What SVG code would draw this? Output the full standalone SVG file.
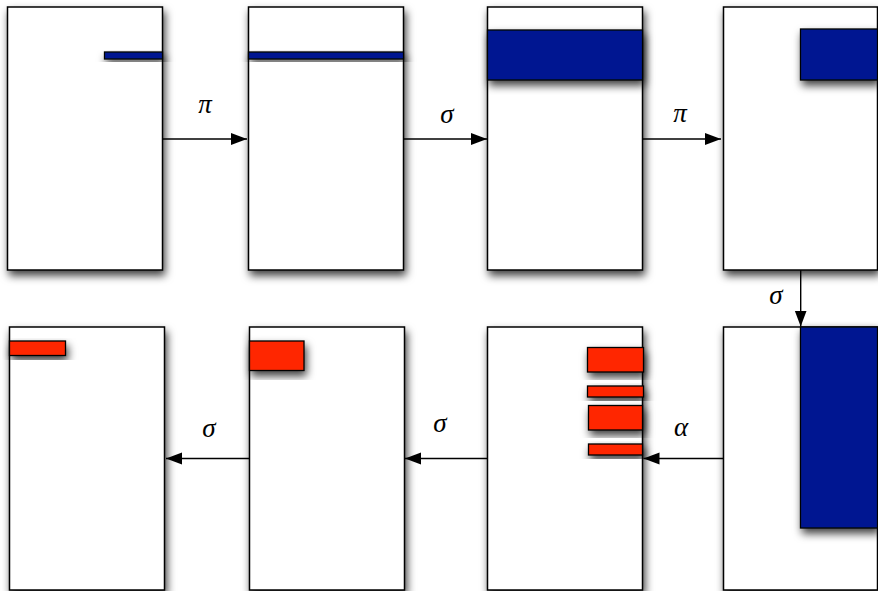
<svg xmlns="http://www.w3.org/2000/svg" width="878" height="591" viewBox="0 0 878 591">
<defs>
<filter id="sh" x="-20%" y="-20%" width="150%" height="150%">
<feDropShadow dx="2" dy="5" stdDeviation="4" flood-color="#000" flood-opacity="0.75"/>
</filter>
<marker id="ah" markerUnits="userSpaceOnUse" markerWidth="17" markerHeight="13" refX="16" refY="6" orient="auto">
<path d="M0,0 L16,6 L0,12 z" fill="#000"/>
</marker>
</defs>
<style>
.box{fill:#fff;stroke:#000;stroke-width:1.5;filter:url(#sh)}
.blue{fill:#001891;stroke:#000;stroke-width:1.3;filter:url(#sh)}
.red{fill:#ff2600;stroke:#000;stroke-width:1.3;filter:url(#sh)}
.con{stroke:#000;stroke-width:1.4;fill:none;marker-end:url(#ah)}
.lbl{font-family:"Liberation Serif","DejaVu Serif",serif;font-style:italic;font-size:27px;fill:#000;text-anchor:middle}
</style>
<rect width="878" height="591" fill="#fff"/>
<g id="n1"><rect class="box" x="7.5" y="7" width="155" height="263"/><rect class="blue" x="104.5" y="52" width="58" height="7"/></g>
<g id="n2"><rect class="box" x="248.5" y="7" width="155" height="263"/><rect class="blue" x="248.5" y="52" width="155" height="7"/></g>
<g id="n3"><rect class="box" x="487.5" y="7" width="155" height="263"/><rect class="blue" x="487.5" y="30" width="155" height="50"/></g>
<g id="n4"><rect class="box" x="723.5" y="7" width="154" height="263"/><rect class="blue" x="800.5" y="29" width="77" height="51"/></g>
<g id="n8"><rect class="box" x="723.5" y="327" width="154" height="263"/><rect class="blue" x="800.5" y="327" width="77" height="201"/></g>
<g id="n7"><rect class="box" x="487.5" y="327" width="155" height="263"/>
<rect class="red" x="587.5" y="347.5" width="56" height="24.5"/>
<rect class="red" x="587.5" y="386" width="56" height="11"/>
<rect class="red" x="588.5" y="405.5" width="54" height="24.5"/>
<rect class="red" x="588.5" y="444" width="54" height="11"/></g>
<g id="n6"><rect class="box" x="249.5" y="327" width="155" height="263"/><rect class="red" x="249.5" y="341" width="54.5" height="29.5"/></g>
<g id="n5"><rect class="box" x="9.5" y="327" width="155" height="263"/><rect class="red" x="9.5" y="341" width="56" height="14.5"/></g>
<g id="connectors">
<line class="con" x1="162.5" y1="139" x2="247" y2="139"/>
<line class="con" x1="403.5" y1="139" x2="487" y2="139"/>
<line class="con" x1="642.5" y1="139" x2="721" y2="139"/>
<line class="con" x1="800.7" y1="270" x2="800.7" y2="326.5"/>
<line class="con" x1="723.5" y1="458.5" x2="643.5" y2="458.5"/>
<line class="con" x1="487.5" y1="458.5" x2="405" y2="458.5"/>
<line class="con" x1="249.5" y1="458.5" x2="166" y2="458.5"/>
<text class="lbl" x="205" y="113">π</text>
<text class="lbl" x="447" y="123">σ</text>
<text class="lbl" x="680" y="122">π</text>
<text class="lbl" x="776" y="304">σ</text>
<text class="lbl" x="681" y="436">α</text>
<text class="lbl" x="440" y="432">σ</text>
<text class="lbl" x="209" y="437">σ</text>
</g>
</svg>
